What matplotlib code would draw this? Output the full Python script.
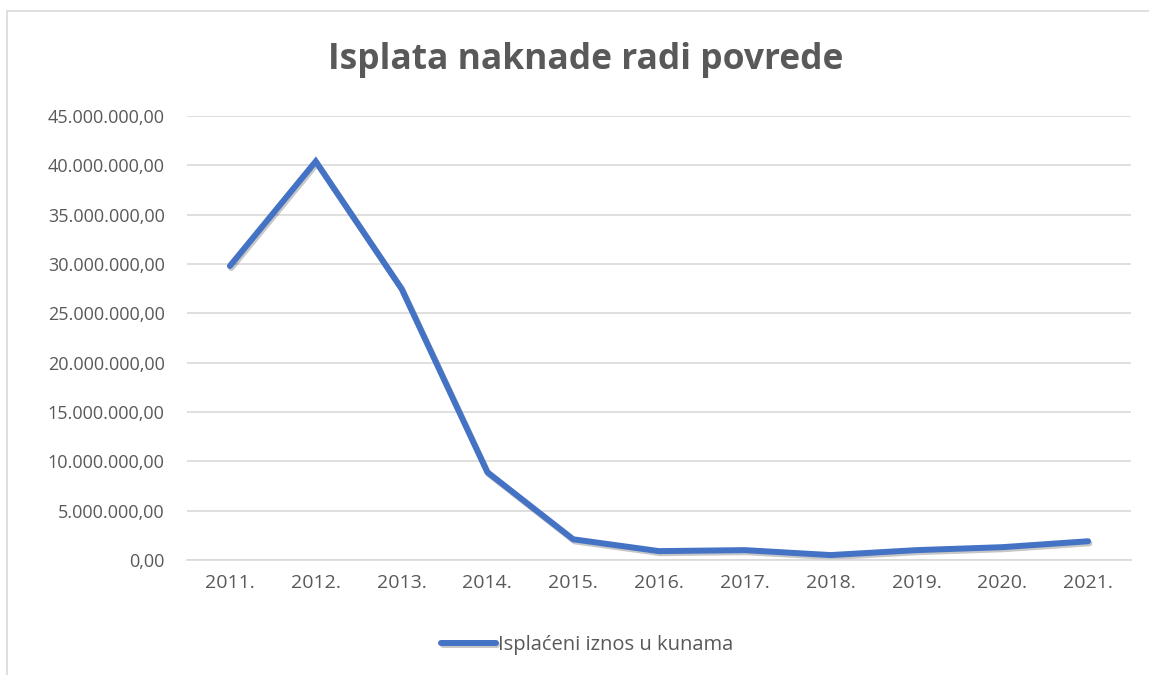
import matplotlib
matplotlib.use("Agg")
import matplotlib.pyplot as plt
import matplotlib.patheffects as pe
from matplotlib.ticker import FuncFormatter, MultipleLocator
from matplotlib.patches import Rectangle

# === Data
years = ["2011.", "2012.", "2013.", "2014.", "2015.", "2016.",
         "2017.", "2018.", "2019.", "2020.", "2021."]
paid = [29.8e6, 40.4e6, 27.5e6, 8.9e6, 2.1e6, 0.9e6,
        1.0e6, 0.5e6, 1.0e6, 1.3e6, 1.9e6]
series_name = "Isplaćeni iznos u kunama"
title = "Isplata naknade radi povrede"

TEXT = "#595959"
GRID = "#D9D9D9"
BLUE = "#4472C4"

plt.rcParams["font.family"] = ["Open Sans", "DejaVu Sans"]

fig = plt.figure(figsize=(11.49, 6.75), dpi=100)
fig.patch.set_facecolor("white")

# chart border (Excel chart area)
fig.patches.append(Rectangle((7 / 1149, -0.01), 1.02, 1 - 11 / 675 + 0.01,
                             transform=fig.transFigure, fill=False,
                             edgecolor=GRID, linewidth=1.2))

ax = fig.add_axes([187 / 1149, 1 - 560 / 675, (1131 - 187) / 1149, (560 - 116) / 675])

x = list(range(len(years)))
ax.plot(x, paid, color=BLUE, linewidth=4.3, solid_capstyle="round",
        solid_joinstyle="miter", label=series_name,
        path_effects=[pe.SimpleLineShadow(offset=(1, -1.5), shadow_color="black", alpha=0.22),
                      pe.Normal()])

ax.set_xlim(-0.5, len(years) - 0.5)
ax.set_ylim(0, 45e6)
ax.yaxis.set_major_locator(MultipleLocator(5e6))


def fmt(v, pos):
    s = f"{v:,.2f}"
    return s.replace(",", "X").replace(".", ",").replace("X", ".")


ax.yaxis.set_major_formatter(FuncFormatter(fmt))
ax.set_xticks(x)
ax.set_xticklabels(years)

ax.grid(axis="y", color=GRID, linewidth=1.2)
ax.set_axisbelow(True)
for side in ["top", "right", "left"]:
    ax.spines[side].set_visible(False)
ax.spines["bottom"].set_color(GRID)
ax.spines["bottom"].set_linewidth(1.2)
ax.tick_params(axis="both", length=0, labelcolor=TEXT)
ax.tick_params(axis="y", pad=16, labelsize=13)
ax.tick_params(axis="x", pad=10, labelsize=14)

fig.text(586 / 1149, 1 - 60 / 675, title, ha="center", va="center",
         fontsize=25.5, fontweight="bold", color=TEXT)

leg = fig.legend(loc="center", bbox_to_anchor=(587 / 1149, 1 - 645 / 675),
                 frameon=False, fontsize=14.5, handlelength=2.7,
                 handletextpad=0.1, labelcolor=TEXT)

fig.savefig("out.png", dpi=100, facecolor="white")
